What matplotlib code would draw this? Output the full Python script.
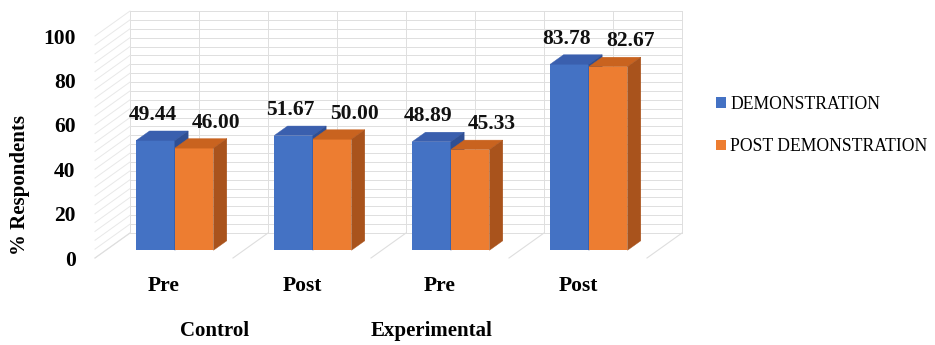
import matplotlib
matplotlib.use("Agg")
import matplotlib.pyplot as plt
from matplotlib.patches import Polygon
import numpy as np

# ---- data -------------------------------------------------------------
groups = ["Control", "Experimental"]
phases = ["Pre", "Post", "Pre", "Post"]
demonstration = [49.44, 51.67, 48.89, 83.78]
post_demonstration = [46.00, 50.00, 45.33, 82.67]
series_names = ["DEMONSTRATION", "POST DEMONSTRATION"]
y_ticks = [0, 20, 40, 60, 80, 100]

# ---- style ------------------------------------------------------------
FONT = "Liberation Serif"
plt.rcParams["font.family"] = [FONT, "DejaVu Serif"]

face = ["#4472C4", "#ED7D31"]
top = ["#3A5FAE", "#C9631F"]
side = ["#2F4F94", "#A9531C"]
grid_back = "#DEDEDE"
grid_side = "#E8E8E8"

W, H = 935, 345
fig = plt.figure(figsize=(W / 100, H / 100), dpi=100)
fig.patch.set_facecolor("white")

# front plane of the plot box: 4 categories x 0..100
ax = fig.add_axes([95 / W, (H - 258) / H, 552 / W, 222 / H])
ax.set_xlim(0, 4)
ax.set_ylim(0, 100)
for s in ax.spines.values():
    s.set_visible(False)

PX_X = 552 / 4.0     # pixels per category
PX_Y = 222 / 100.0   # pixels per value unit
DX = 35 / PX_X       # depth offset (x) for full depth, in data units
DY = 25 / PX_Y       # depth offset (y) for full depth, in data units


def proj(x, v, z):
    return (x + z * DX, v + z * DY)


def poly(pts, color, z, lw=0):
    p = Polygon(pts, closed=True, facecolor=color, edgecolor=color,
                linewidth=lw, zorder=z, clip_on=False)
    ax.add_patch(p)


n = len(phases)
ymax = y_ticks[-1]

# back wall (z = 1)
poly([proj(0, 0, 1), proj(n, 0, 1), proj(n, ymax, 1), proj(0, ymax, 1)], "white", 0)
for v in np.arange(0, ymax + 0.1, 4):
    a, b = proj(0, v, 1), proj(n, v, 1)
    ax.plot([a[0], b[0]], [a[1], b[1]], color=grid_back, lw=0.7, zorder=1, clip_on=False)
for x in np.arange(0, n + 0.01, 0.5):
    a, b = proj(x, 0, 1), proj(x, ymax, 1)
    ax.plot([a[0], b[0]], [a[1], b[1]], color=grid_back, lw=0.7, zorder=1, clip_on=False)

# left side wall (x = 0)
for v in np.arange(0, ymax + 0.1, 4):
    a, b = proj(0, v, 0), proj(0, v, 1)
    ax.plot([a[0], b[0]], [a[1], b[1]], color=grid_side, lw=0.7, zorder=1, clip_on=False)

# floor divisions between categories
for x in range(n + 1):
    a, b = proj(x, 0, 0), proj(x, 0, 1)
    ax.plot([a[0], b[0]], [a[1], b[1]], color=grid_back, lw=0.8, zorder=1, clip_on=False)

# ---- 3-D columns -------------------------------------------------------
z1, z2 = 0.31, 0.69
bw = 0.28
start = 0.22
series = [demonstration, post_demonstration]
handles = []
for s, vals in enumerate(series):
    lefts = np.arange(n) + start + s * bw
    bars = ax.bar(lefts + z1 * DX, vals, width=bw, bottom=z1 * DY, align="edge",
                  color=face[s], linewidth=0, zorder=3 + 2 * s, clip_on=False,
                  label=series_names[s])
    handles.append(bars)
    for x0, v in zip(lefts, vals):
        poly([proj(x0, v, z1), proj(x0 + bw, v, z1),
              proj(x0 + bw, v, z2), proj(x0, v, z2)], top[s], 3 + 2 * s, 0.3)
        poly([proj(x0 + bw, 0, z1), proj(x0 + bw, v, z1),
              proj(x0 + bw, v, z2), proj(x0 + bw, 0, z2)], side[s], 3 + 2 * s, 0.3)
        # value label above the column top
        shift = -3 / PX_X if s == 0 else 22 / PX_X
        lx = x0 + bw / 2 + z1 * DX + shift
        ly = v + z2 * DY + 6 / PX_Y
        ax.text(lx, ly, f"{v:.2f}", ha="center", va="bottom", fontsize=15.5,
                fontweight="bold", color="#111111", zorder=10, clip_on=False)

# ---- axes text ---------------------------------------------------------
ax.set_yticks(y_ticks)
ax.set_yticklabels([str(t) for t in y_ticks], fontsize=15.5, fontweight="bold")
ax.tick_params(axis="y", length=0, pad=14)
ax.set_xticks(np.arange(n) + 0.5)
ax.set_xticklabels(phases, fontsize=15.5, fontweight="bold")
ax.tick_params(axis="x", length=0, pad=13)

fig.text(20 / W, (H - 185) / H, "% Respondents", rotation=90, ha="center",
         va="center", fontsize=15, fontweight="bold")

group_x = [215, 432]
for g, gx in zip(groups, group_x):
    fig.text(gx / W, (H - 331) / H, g, ha="center", va="center",
             fontsize=15, fontweight="bold")

leg = fig.legend(handles=handles, labels=series_names, loc="center left",
                 bbox_to_anchor=(716 / W, (H - 125.5) / H), frameon=False,
                 fontsize=12.7, handlelength=0.55, handleheight=0.55,
                 handletextpad=0.25, labelspacing=1.45, borderpad=0,
                 borderaxespad=0)

fig.savefig("out.png", dpi=100, facecolor="white")
